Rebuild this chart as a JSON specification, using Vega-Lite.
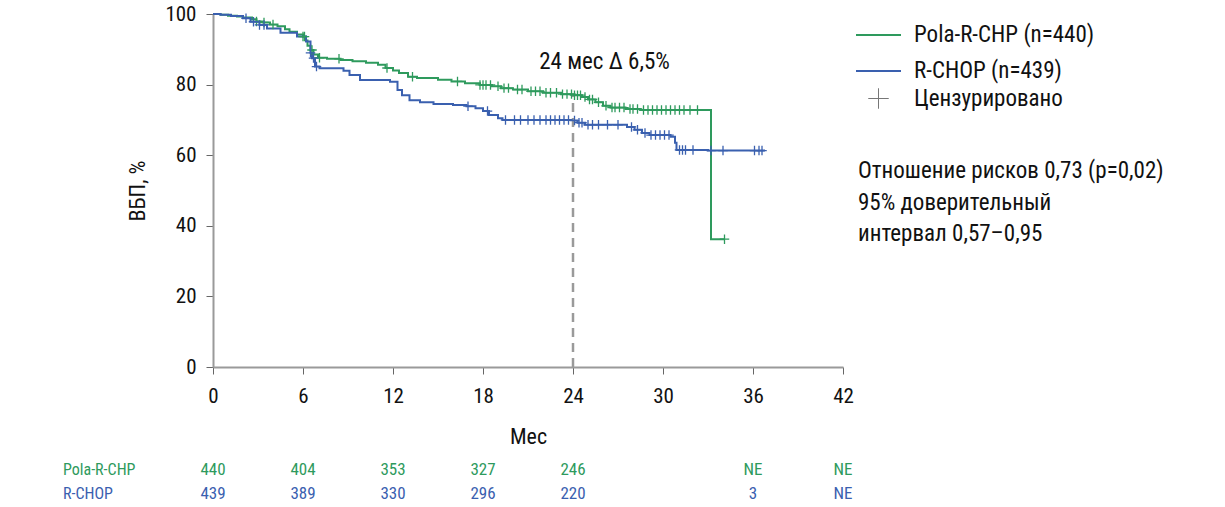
{
  "$schema": "https://vega.github.io/schema/vega-lite/v6.json",
  "width": 630,
  "height": 353,
  "autosize": {"type": "none"},
  "padding": {"left": 213, "top": 14, "right": 382, "bottom": 140},
  "background": "white",
  "config": {
    "view": {"stroke": null},
    "font": "Roboto Condensed, DejaVu Sans Condensed, Liberation Sans Narrow, Roboto, sans-serif",
    "axis": {
      "grid": false,
      "domainColor": "#9a9a9a",
      "domainWidth": 2,
      "tickColor": "#666666",
      "tickSize": 7,
      "labelFontSize": 21,
      "labelColor": "#111111",
      "labelFlush": false,
      "titleFontSize": 22,
      "titleFontWeight": "normal",
      "titleColor": "#111111"
    },
    "legend": {"padding": 0}
  },
  "datasets": {
    "curves": [
      {"arm": "Pola-R-CHP", "month": 0, "surv": 100},
      {"arm": "Pola-R-CHP", "month": 0.5, "surv": 99.8},
      {"arm": "Pola-R-CHP", "month": 1.0, "surv": 99.5},
      {"arm": "Pola-R-CHP", "month": 1.6, "surv": 99.3},
      {"arm": "Pola-R-CHP", "month": 2.0, "surv": 99.0},
      {"arm": "Pola-R-CHP", "month": 2.6, "surv": 98.5},
      {"arm": "Pola-R-CHP", "month": 2.9, "surv": 97.9},
      {"arm": "Pola-R-CHP", "month": 3.3, "surv": 97.6},
      {"arm": "Pola-R-CHP", "month": 3.8, "surv": 97.0},
      {"arm": "Pola-R-CHP", "month": 4.3, "surv": 96.5},
      {"arm": "Pola-R-CHP", "month": 4.8, "surv": 95.7},
      {"arm": "Pola-R-CHP", "month": 5.1, "surv": 95.0},
      {"arm": "Pola-R-CHP", "month": 5.6, "surv": 94.2},
      {"arm": "Pola-R-CHP", "month": 6.0, "surv": 93.6},
      {"arm": "Pola-R-CHP", "month": 6.2, "surv": 92.5},
      {"arm": "Pola-R-CHP", "month": 6.3, "surv": 91.0},
      {"arm": "Pola-R-CHP", "month": 6.5, "surv": 89.8},
      {"arm": "Pola-R-CHP", "month": 6.7, "surv": 88.5},
      {"arm": "Pola-R-CHP", "month": 7.0, "surv": 87.6},
      {"arm": "Pola-R-CHP", "month": 7.6, "surv": 87.3},
      {"arm": "Pola-R-CHP", "month": 8.5, "surv": 87.0},
      {"arm": "Pola-R-CHP", "month": 9.3, "surv": 86.6},
      {"arm": "Pola-R-CHP", "month": 10.2, "surv": 86.2},
      {"arm": "Pola-R-CHP", "month": 11.0, "surv": 85.6},
      {"arm": "Pola-R-CHP", "month": 11.5, "surv": 84.7},
      {"arm": "Pola-R-CHP", "month": 12.0, "surv": 84.0},
      {"arm": "Pola-R-CHP", "month": 12.4, "surv": 83.3},
      {"arm": "Pola-R-CHP", "month": 13.0, "surv": 82.2},
      {"arm": "Pola-R-CHP", "month": 13.6, "surv": 81.9},
      {"arm": "Pola-R-CHP", "month": 15.0, "surv": 81.4},
      {"arm": "Pola-R-CHP", "month": 15.9, "surv": 80.9},
      {"arm": "Pola-R-CHP", "month": 16.8, "surv": 80.4},
      {"arm": "Pola-R-CHP", "month": 17.8, "surv": 79.9},
      {"arm": "Pola-R-CHP", "month": 18.6, "surv": 79.5},
      {"arm": "Pola-R-CHP", "month": 19.2, "surv": 79.0},
      {"arm": "Pola-R-CHP", "month": 20.0, "surv": 78.6},
      {"arm": "Pola-R-CHP", "month": 21.0, "surv": 78.1},
      {"arm": "Pola-R-CHP", "month": 22.0, "surv": 77.7},
      {"arm": "Pola-R-CHP", "month": 23.2, "surv": 77.3},
      {"arm": "Pola-R-CHP", "month": 24.0, "surv": 77.0},
      {"arm": "Pola-R-CHP", "month": 24.6, "surv": 76.5},
      {"arm": "Pola-R-CHP", "month": 25.0, "surv": 75.8},
      {"arm": "Pola-R-CHP", "month": 25.5, "surv": 75.0},
      {"arm": "Pola-R-CHP", "month": 26.0, "surv": 74.0},
      {"arm": "Pola-R-CHP", "month": 26.5, "surv": 73.5},
      {"arm": "Pola-R-CHP", "month": 27.5, "surv": 73.1},
      {"arm": "Pola-R-CHP", "month": 28.5, "surv": 72.8},
      {"arm": "Pola-R-CHP", "month": 33.2, "surv": 36.2},
      {"arm": "Pola-R-CHP", "month": 34.1, "surv": 36.2},
      {"arm": "R-CHOP", "month": 0, "surv": 100},
      {"arm": "R-CHOP", "month": 0.5, "surv": 99.8},
      {"arm": "R-CHOP", "month": 1.2, "surv": 99.4},
      {"arm": "R-CHOP", "month": 2.0, "surv": 98.8},
      {"arm": "R-CHOP", "month": 2.5, "surv": 97.8},
      {"arm": "R-CHOP", "month": 3.1, "surv": 96.9},
      {"arm": "R-CHOP", "month": 3.6, "surv": 95.9},
      {"arm": "R-CHOP", "month": 4.5, "surv": 94.7},
      {"arm": "R-CHOP", "month": 5.6, "surv": 93.6},
      {"arm": "R-CHOP", "month": 6.2, "surv": 92.2},
      {"arm": "R-CHOP", "month": 6.5, "surv": 89.0},
      {"arm": "R-CHOP", "month": 6.6, "surv": 87.5},
      {"arm": "R-CHOP", "month": 6.8, "surv": 85.1},
      {"arm": "R-CHOP", "month": 7.1, "surv": 84.6},
      {"arm": "R-CHOP", "month": 8.7, "surv": 83.9},
      {"arm": "R-CHOP", "month": 9.1, "surv": 82.7},
      {"arm": "R-CHOP", "month": 9.8, "surv": 81.3},
      {"arm": "R-CHOP", "month": 11.8, "surv": 80.8},
      {"arm": "R-CHOP", "month": 12.3, "surv": 78.5},
      {"arm": "R-CHOP", "month": 12.6, "surv": 77.0},
      {"arm": "R-CHOP", "month": 13.1, "surv": 75.6},
      {"arm": "R-CHOP", "month": 13.8, "surv": 75.0},
      {"arm": "R-CHOP", "month": 14.7, "surv": 74.5},
      {"arm": "R-CHOP", "month": 16.0, "surv": 74.2},
      {"arm": "R-CHOP", "month": 16.9, "surv": 73.9},
      {"arm": "R-CHOP", "month": 17.5, "surv": 73.3},
      {"arm": "R-CHOP", "month": 18.0, "surv": 72.5},
      {"arm": "R-CHOP", "month": 18.4, "surv": 71.4},
      {"arm": "R-CHOP", "month": 19.0, "surv": 70.5},
      {"arm": "R-CHOP", "month": 19.3, "surv": 70.0},
      {"arm": "R-CHOP", "month": 24.0, "surv": 69.8},
      {"arm": "R-CHOP", "month": 24.3, "surv": 69.2},
      {"arm": "R-CHOP", "month": 24.8, "surv": 68.6},
      {"arm": "R-CHOP", "month": 27.6, "surv": 68.0},
      {"arm": "R-CHOP", "month": 28.1, "surv": 67.2},
      {"arm": "R-CHOP", "month": 28.6, "surv": 66.3},
      {"arm": "R-CHOP", "month": 29.1, "surv": 65.7},
      {"arm": "R-CHOP", "month": 30.5, "surv": 65.2},
      {"arm": "R-CHOP", "month": 30.8, "surv": 63.5},
      {"arm": "R-CHOP", "month": 30.9, "surv": 61.5},
      {"arm": "R-CHOP", "month": 33.0, "surv": 61.3},
      {"arm": "R-CHOP", "month": 36.8, "surv": 61.3}
    ],
    "censor": [
      {"arm": "Pola-R-CHP", "month": 2.9, "surv": 97.9},
      {"arm": "Pola-R-CHP", "month": 3.4, "surv": 97.6},
      {"arm": "Pola-R-CHP", "month": 4.0, "surv": 97.0},
      {"arm": "Pola-R-CHP", "month": 6.0, "surv": 93.6},
      {"arm": "Pola-R-CHP", "month": 6.1, "surv": 93.6},
      {"arm": "Pola-R-CHP", "month": 6.6, "surv": 89.8},
      {"arm": "Pola-R-CHP", "month": 7.1, "surv": 87.6},
      {"arm": "Pola-R-CHP", "month": 8.4, "surv": 87.3},
      {"arm": "Pola-R-CHP", "month": 11.6, "surv": 84.7},
      {"arm": "Pola-R-CHP", "month": 13.3, "surv": 82.2},
      {"arm": "Pola-R-CHP", "month": 16.3, "surv": 80.9},
      {"arm": "Pola-R-CHP", "month": 17.8, "surv": 79.9},
      {"arm": "Pola-R-CHP", "month": 18.0, "surv": 79.9},
      {"arm": "Pola-R-CHP", "month": 18.2, "surv": 79.9},
      {"arm": "Pola-R-CHP", "month": 18.5, "surv": 79.9},
      {"arm": "Pola-R-CHP", "month": 19.0, "surv": 79.5},
      {"arm": "Pola-R-CHP", "month": 19.4, "surv": 79.0},
      {"arm": "Pola-R-CHP", "month": 19.7, "surv": 79.0},
      {"arm": "Pola-R-CHP", "month": 20.3, "surv": 78.6},
      {"arm": "Pola-R-CHP", "month": 20.6, "surv": 78.6},
      {"arm": "Pola-R-CHP", "month": 21.2, "surv": 78.1},
      {"arm": "Pola-R-CHP", "month": 21.5, "surv": 78.1},
      {"arm": "Pola-R-CHP", "month": 21.8, "surv": 78.1},
      {"arm": "Pola-R-CHP", "month": 22.2, "surv": 77.7},
      {"arm": "Pola-R-CHP", "month": 22.5, "surv": 77.7},
      {"arm": "Pola-R-CHP", "month": 22.9, "surv": 77.7},
      {"arm": "Pola-R-CHP", "month": 23.3, "surv": 77.3},
      {"arm": "Pola-R-CHP", "month": 23.6, "surv": 77.3},
      {"arm": "Pola-R-CHP", "month": 23.9, "surv": 77.3},
      {"arm": "Pola-R-CHP", "month": 24.1, "surv": 77.0},
      {"arm": "Pola-R-CHP", "month": 24.3, "surv": 77.0},
      {"arm": "Pola-R-CHP", "month": 24.5, "surv": 77.0},
      {"arm": "Pola-R-CHP", "month": 24.8, "surv": 76.5},
      {"arm": "Pola-R-CHP", "month": 25.1, "surv": 75.8},
      {"arm": "Pola-R-CHP", "month": 25.3, "surv": 75.8},
      {"arm": "Pola-R-CHP", "month": 25.7, "surv": 75.0},
      {"arm": "Pola-R-CHP", "month": 26.2, "surv": 74.0},
      {"arm": "Pola-R-CHP", "month": 26.6, "surv": 73.5},
      {"arm": "Pola-R-CHP", "month": 26.8, "surv": 73.5},
      {"arm": "Pola-R-CHP", "month": 27.1, "surv": 73.5},
      {"arm": "Pola-R-CHP", "month": 27.4, "surv": 73.5},
      {"arm": "Pola-R-CHP", "month": 27.8, "surv": 73.1},
      {"arm": "Pola-R-CHP", "month": 28.0, "surv": 73.1},
      {"arm": "Pola-R-CHP", "month": 28.3, "surv": 73.1},
      {"arm": "Pola-R-CHP", "month": 28.7, "surv": 72.8},
      {"arm": "Pola-R-CHP", "month": 29.0, "surv": 72.8},
      {"arm": "Pola-R-CHP", "month": 29.3, "surv": 72.8},
      {"arm": "Pola-R-CHP", "month": 29.6, "surv": 72.8},
      {"arm": "Pola-R-CHP", "month": 29.9, "surv": 72.8},
      {"arm": "Pola-R-CHP", "month": 30.2, "surv": 72.8},
      {"arm": "Pola-R-CHP", "month": 30.5, "surv": 72.8},
      {"arm": "Pola-R-CHP", "month": 30.8, "surv": 72.8},
      {"arm": "Pola-R-CHP", "month": 31.1, "surv": 72.8},
      {"arm": "Pola-R-CHP", "month": 31.4, "surv": 72.8},
      {"arm": "Pola-R-CHP", "month": 31.8, "surv": 72.8},
      {"arm": "Pola-R-CHP", "month": 32.3, "surv": 72.8},
      {"arm": "Pola-R-CHP", "month": 34.1, "surv": 36.2},
      {"arm": "R-CHOP", "month": 2.2, "surv": 98.8},
      {"arm": "R-CHOP", "month": 2.7, "surv": 97.8},
      {"arm": "R-CHOP", "month": 3.1, "surv": 96.9},
      {"arm": "R-CHOP", "month": 3.4, "surv": 96.9},
      {"arm": "R-CHOP", "month": 6.5, "surv": 89.0},
      {"arm": "R-CHOP", "month": 6.7, "surv": 87.5},
      {"arm": "R-CHOP", "month": 6.9, "surv": 85.1},
      {"arm": "R-CHOP", "month": 17.0, "surv": 73.9},
      {"arm": "R-CHOP", "month": 18.3, "surv": 72.5},
      {"arm": "R-CHOP", "month": 19.5, "surv": 70.0},
      {"arm": "R-CHOP", "month": 20.1, "surv": 70.0},
      {"arm": "R-CHOP", "month": 20.5, "surv": 70.0},
      {"arm": "R-CHOP", "month": 21.0, "surv": 70.0},
      {"arm": "R-CHOP", "month": 21.4, "surv": 70.0},
      {"arm": "R-CHOP", "month": 21.8, "surv": 70.0},
      {"arm": "R-CHOP", "month": 22.2, "surv": 70.0},
      {"arm": "R-CHOP", "month": 22.5, "surv": 70.0},
      {"arm": "R-CHOP", "month": 22.8, "surv": 70.0},
      {"arm": "R-CHOP", "month": 23.1, "surv": 70.0},
      {"arm": "R-CHOP", "month": 23.4, "surv": 70.0},
      {"arm": "R-CHOP", "month": 23.7, "surv": 70.0},
      {"arm": "R-CHOP", "month": 24.1, "surv": 69.8},
      {"arm": "R-CHOP", "month": 24.4, "surv": 69.2},
      {"arm": "R-CHOP", "month": 24.6, "surv": 69.2},
      {"arm": "R-CHOP", "month": 25.0, "surv": 68.6},
      {"arm": "R-CHOP", "month": 25.3, "surv": 68.6},
      {"arm": "R-CHOP", "month": 25.7, "surv": 68.6},
      {"arm": "R-CHOP", "month": 26.3, "surv": 68.6},
      {"arm": "R-CHOP", "month": 27.0, "surv": 68.6},
      {"arm": "R-CHOP", "month": 27.9, "surv": 68.0},
      {"arm": "R-CHOP", "month": 28.3, "surv": 67.2},
      {"arm": "R-CHOP", "month": 28.8, "surv": 66.3},
      {"arm": "R-CHOP", "month": 29.2, "surv": 65.7},
      {"arm": "R-CHOP", "month": 29.5, "surv": 65.7},
      {"arm": "R-CHOP", "month": 29.8, "surv": 65.7},
      {"arm": "R-CHOP", "month": 30.1, "surv": 65.7},
      {"arm": "R-CHOP", "month": 30.4, "surv": 65.7},
      {"arm": "R-CHOP", "month": 31.1, "surv": 61.5},
      {"arm": "R-CHOP", "month": 31.3, "surv": 61.5},
      {"arm": "R-CHOP", "month": 31.5, "surv": 61.5},
      {"arm": "R-CHOP", "month": 32.0, "surv": 61.5},
      {"arm": "R-CHOP", "month": 33.2, "surv": 61.3},
      {"arm": "R-CHOP", "month": 34.0, "surv": 61.3},
      {"arm": "R-CHOP", "month": 36.1, "surv": 61.3},
      {"arm": "R-CHOP", "month": 36.4, "surv": 61.3},
      {"arm": "R-CHOP", "month": 36.6, "surv": 61.3}
    ],
    "risk": [
      {"arm": "Pola-R-CHP", "month": 0, "n": "440"},
      {"arm": "Pola-R-CHP", "month": 6, "n": "404"},
      {"arm": "Pola-R-CHP", "month": 12, "n": "353"},
      {"arm": "Pola-R-CHP", "month": 18, "n": "327"},
      {"arm": "Pola-R-CHP", "month": 24, "n": "246"},
      {"arm": "Pola-R-CHP", "month": 36, "n": "NE"},
      {"arm": "Pola-R-CHP", "month": 42, "n": "NE"},
      {"arm": "R-CHOP", "month": 0, "n": "439"},
      {"arm": "R-CHOP", "month": 6, "n": "389"},
      {"arm": "R-CHOP", "month": 12, "n": "330"},
      {"arm": "R-CHOP", "month": 18, "n": "296"},
      {"arm": "R-CHOP", "month": 24, "n": "220"},
      {"arm": "R-CHOP", "month": 36, "n": "3"},
      {"arm": "R-CHOP", "month": 42, "n": "NE"}
    ]
  },
  "layer": [
    {
      "data": {"name": "curves"},
      "mark": {"type": "line", "interpolate": "step-after", "strokeWidth": 2},
      "encoding": {
        "x": {"field": "month", "type": "quantitative", "scale": {"domain": [0, 42], "nice": false, "zero": false}, "axis": {"title": "Мес", "values": [0, 6, 12, 18, 24, 30, 36, 42], "labelPadding": 11, "titlePadding": 20}},
        "y": {"field": "surv", "type": "quantitative", "scale": {"domain": [0, 100], "nice": false}, "axis": {"title": "ВБП, %", "values": [0, 20, 40, 60, 80, 100], "labelPadding": 10, "titlePadding": 15}},
        "color": {
          "field": "arm",
          "type": "nominal",
          "scale": {"domain": ["Pola-R-CHP", "R-CHOP"], "range": ["#2e9a5d", "#3a60af"]},
          "legend": {
            "orient": "none",
            "legendX": 642,
            "legendY": -2.5,
            "title": null,
            "symbolType": "stroke",
            "symbolSize": 2025,
            "symbolStrokeWidth": 2,
            "labelFontSize": 23,
            "labelColor": "#111111",
            "labelOffset": 12,
            "labelLimit": 400,
            "rowPadding": -14,
            "labelExpr": "datum.label == 'Pola-R-CHP' ? 'Pola-R-CHP (n=440)' : 'R-CHOP (n=439)'"
          }
        }
      }
    },
    {
      "data": {"values": [{"k": 1}]},
      "mark": {"type": "rule", "color": "#9a9a9a", "strokeWidth": 2.5, "strokeDash": [9, 6]},
      "encoding": {
        "x": {"datum": 24, "type": "quantitative"},
        "y": {"datum": 0, "type": "quantitative"},
        "y2": {"datum": 77}
      }
    },
    {
      "data": {"name": "censor"},
      "mark": {"type": "point", "filled": false, "opacity": 1, "strokeWidth": 1.3, "size": 90},
      "encoding": {
        "x": {"field": "month", "type": "quantitative"},
        "y": {"field": "surv", "type": "quantitative"},
        "color": {"field": "arm", "type": "nominal"},
        "shape": {
          "datum": "Цензурировано",
          "type": "nominal",
          "scale": {"range": ["M-1,0L1,0M0,-1L0,1"]},
          "legend": {
            "orient": "none",
            "legendX": 654,
            "legendY": 73,
            "title": null,
            "symbolSize": 420,
            "symbolStrokeColor": "#777777",
            "symbolFillColor": "transparent",
            "symbolStrokeWidth": 1,
            "labelFontSize": 23,
            "labelColor": "#111111",
            "labelOffset": 24,
            "labelLimit": 400
          }
        }
      }
    },
    {
      "data": {"values": [{"k": 1}]},
      "mark": {"type": "text", "text": "24 мес Δ 6,5%", "fontSize": 23, "color": "#111111", "align": "center", "baseline": "middle"},
      "encoding": {
        "x": {"datum": 26.1, "type": "quantitative"},
        "y": {"datum": 86.4, "type": "quantitative"}
      }
    },
    {
      "data": {"values": [{"k": 1}]},
      "mark": {"type": "text", "text": ["Отношение рисков 0,73 (p=0,02)", "95% доверительный", "интервал 0,57–0,95"], "fontSize": 23, "lineHeight": 31.5, "color": "#111111", "align": "left", "baseline": "alphabetic"},
      "encoding": {
        "x": {"datum": 43, "type": "quantitative"},
        "y": {"datum": 53.5, "type": "quantitative"}
      }
    },
    {
      "data": {"name": "risk"},
      "transform": [{"filter": "datum.arm == 'Pola-R-CHP'"}],
      "mark": {"type": "text", "fontSize": 17, "align": "center", "baseline": "middle"},
      "encoding": {
        "x": {"field": "month", "type": "quantitative"},
        "y": {"datum": -29.2, "type": "quantitative"},
        "color": {"field": "arm", "type": "nominal"},
        "text": {"field": "n"}
      }
    },
    {
      "data": {"name": "risk"},
      "transform": [{"filter": "datum.arm == 'R-CHOP'"}],
      "mark": {"type": "text", "fontSize": 17, "align": "center", "baseline": "middle"},
      "encoding": {
        "x": {"field": "month", "type": "quantitative"},
        "y": {"datum": -36.0, "type": "quantitative"},
        "color": {"field": "arm", "type": "nominal"},
        "text": {"field": "n"}
      }
    },
    {
      "data": {"values": [{"arm": "Pola-R-CHP"}]},
      "mark": {"type": "text", "text": "Pola-R-CHP", "fontSize": 16, "align": "left", "baseline": "middle"},
      "encoding": {
        "x": {"datum": -10, "type": "quantitative"},
        "y": {"datum": -29.2, "type": "quantitative"},
        "color": {"field": "arm", "type": "nominal"}
      }
    },
    {
      "data": {"values": [{"arm": "R-CHOP"}]},
      "mark": {"type": "text", "text": "R-CHOP", "fontSize": 16, "align": "left", "baseline": "middle"},
      "encoding": {
        "x": {"datum": -10, "type": "quantitative"},
        "y": {"datum": -36.0, "type": "quantitative"},
        "color": {"field": "arm", "type": "nominal"}
      }
    }
  ]
}
